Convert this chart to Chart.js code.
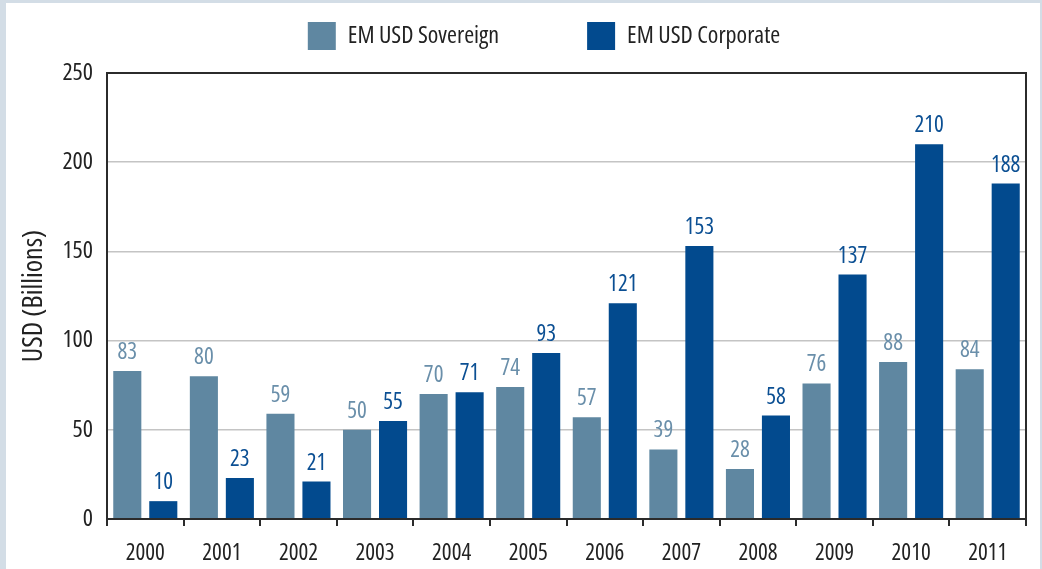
<!DOCTYPE html>
<html>
<head>
<meta charset="utf-8">
<script src="https://cdn.jsdelivr.net/npm/chart.js@4"></script>
<style>
  html, body { margin: 0; padding: 0; background: #d3dde6; }
  #wrap { position: absolute; left: 6px; top: 3px; width: 1034px; height: 566px; background: #fff; }
</style>
</head>
<body>
<div id="wrap"><canvas id="myChart" width="1034" height="566"></canvas></div>
<script>
const years = ['2000', '2001', '2002', '2003', '2004', '2005', '2006', '2007', '2008', '2009', '2010', '2011'];
const sovereign = [83, 80, 59, 50, 70, 74, 57, 39, 28, 76, 88, 84];
const corporate = [10, 23, 21, 55, 71, 93, 121, 153, 58, 137, 210, 188];
const yTicks = [0, 50, 100, 150, 200, 250];

// pick the narrowest font that is really there
function pickFont() {
  const c = document.createElement('canvas').getContext('2d');
  const w = f => { c.font = f; return c.measureText('EM USD Sovereign 2000').width; };
  if (w("24px 'Liberation Sans Narrow', monospace") !== w('24px monospace')) {
    return { family: "'Liberation Sans Narrow'", weight: 'normal', k: 1 };
  }
  if (w("condensed 24px 'Open Sans'") < w("24px 'Open Sans'") * 0.9) {
    return { family: "'Open Sans'", weight: '400 condensed', k: 0.95 };
  }
  return { family: "'DejaVu Sans Condensed'", weight: 'normal', k: 0.85 };
}
const F = pickFont();
const font = size => ({ family: F.family, weight: F.weight, size: Math.round(size * F.k) });
const labelColors = ['#6a8faa', '#0b4f93'];

// value labels over the bars + full box around the plot
const barLabels = {
  id: 'barLabels',
  afterLayout(chart) {
    const lg = chart.legend;
    lg.top = 19 - lg.options.labels.padding;
    lg.left += 28;
    lg.right += 28;
  },
  afterDatasetsDraw(chart) {
    const ctx = chart.ctx;
    const f = font(24);
    ctx.save();
    ctx.font = F.weight + ' ' + f.size + 'px ' + F.family;
    ctx.textAlign = 'center';
    ctx.textBaseline = 'alphabetic';
    chart.data.datasets.forEach((ds, i) => {
      chart.getDatasetMeta(i).data.forEach((bar, j) => {
        ctx.fillStyle = labelColors[i];
        ctx.fillText(ds.data[j], bar.x, bar.y - 12);
      });
    });
    const a = chart.chartArea;
    ctx.strokeStyle = '#2b2b2b';
    ctx.lineWidth = 2;
    ctx.strokeRect(a.left, a.top, a.right - a.left, a.bottom - a.top);
    ctx.restore();
  }
};

const chart = new Chart('myChart', {
  type: 'bar',
  data: {
    labels: years,
    datasets: [
      { label: 'EM USD Sovereign', data: sovereign, backgroundColor: '#5f87a1' },
      { label: 'EM USD Corporate', data: corporate, backgroundColor: '#024a8e' }
    ]
  },
  options: {
    responsive: false,
    animation: false,
    categoryPercentage: 0.94,
    barPercentage: 0.78,
    layout: { padding: { top: 0, right: 14, left: 0, bottom: 0 } },
    plugins: {
      legend: {
        position: 'top',
        labels: {
          boxWidth: 28,
          boxHeight: 28,
          padding: 88,
          color: '#222',
          font: font(25)
        }
      },
      tooltip: { enabled: false }
    },
    scales: {
      x: {
        grid: { offset: true, drawOnChartArea: false, tickLength: 7, color: '#2b2b2b', lineWidth: 2 },
        border: { display: true, color: '#2b2b2b', width: 2 },
        ticks: { color: '#222', font: font(24), padding: 14, maxRotation: 0 },
        afterFit(s) { s.height = 50; }
      },
      y: {
        min: 0,
        max: 250,
        afterBuildTicks(s) { s.ticks = yTicks.map(v => ({ value: v })); },
        grid: { color: '#c4c4c4', lineWidth: 1.5, drawTicks: false },
        border: { display: true, color: '#2b2b2b', width: 2 },
        ticks: { color: '#222', font: font(25), padding: 14 },
        title: { display: true, text: 'USD (Billions)', color: '#222', font: font(29), padding: { top: 11, bottom: 0 } },
        afterFit(s) { s.width = 101; }
      }
    }
  },
  plugins: [{
    id: 'legendHeight',
    afterInit(c) {
      const lg = c.legend;
      const fit = lg.fit;
      lg.fit = function () { fit.call(this); this.height = 70; };
    }
  }, barLabels]
});
chart.update();
</script>
</body>
</html>
